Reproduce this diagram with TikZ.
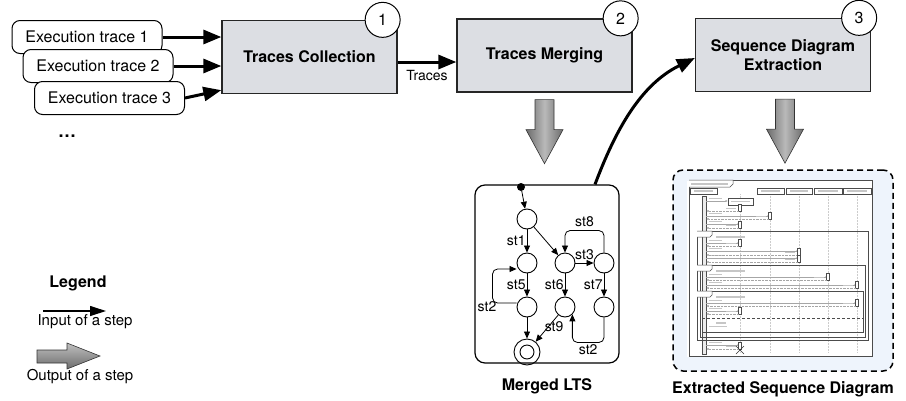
\documentclass[tikz,border=0pt]{standalone}
\usepackage{fontspec}
\setmainfont{TeX Gyre Heros}
\usetikzlibrary{arrows.meta,positioning}

\definecolor{boxgray}{HTML}{DCDEE3}
\definecolor{sdblue}{HTML}{EEF4FC}

\begin{document}
\begin{tikzpicture}[x=1pt,y=-1pt,font=\fontsize{16}{19}\selectfont,
			stepbox/.style={draw=black!85,line width=1.3pt,fill=boxgray,minimum width=175pt,minimum height=73pt,font=\fontsize{16}{19}\selectfont\bfseries,align=center},
			tracebox/.style={draw,line width=1pt,rounded corners=8pt,fill=white,minimum width=150pt,minimum height=33pt},
			num/.style={circle,draw,line width=1pt,fill=white,minimum size=35pt,inner sep=0pt},
			inarrow/.style={line width=3pt,-{Triangle[length=18pt,width=14pt]}},
			fatdown/.style={draw=black!80,line width=0.6pt,left color=gray!85!black,right color=gray!85!black,middle color=gray!55},
			fatright/.style={draw=black!80,line width=0.6pt,top color=gray!50,bottom color=gray!85!black},
			state/.style={circle,draw,line width=0.9pt,minimum size=20pt,inner sep=0pt},
			tr/.style={line width=0.8pt,-{Triangle[length=7pt,width=6pt]}},
			lbl/.style={font=\fontsize{14}{16}\selectfont,inner sep=1pt},
			title/.style={font=\fontsize{16}{19}\selectfont\bfseries},
			msg/.style={line width=0.4pt,gray!70,-{Latex[length=2.5pt,width=2pt]}},
			ret/.style={line width=0.4pt,gray!70,densely dotted,-{Latex[length=2.5pt,width=2pt]}},
			frm/.style={draw=gray!60!black,line width=0.5pt},
			bar/.style={fill=gray!45}]
	\useasboundingbox (0,0) rectangle (906,400);

	% input traces
	\node [tracebox] (t1) at (87,37) {Execution trace 1};
	\node [tracebox] (t2) at (98,66) {Execution trace 2};
	\node [tracebox] (t3) at (109.5,98) {Execution trace 3};
	\node [font=\fontsize{18}{20}\selectfont\bfseries] (dots) at (67,136) {\dots};

	% the three steps
	\node [stepbox] (tc) at (309.5,57) {Traces Collection};
	\node [stepbox] (tm) at (544.5,55.5) {Traces Merging};
	\node [stepbox] (se) at (783,55) {Sequence Diagram\\Extraction};
	\node [num] (n1) at ([xshift=-15pt]tc.north east) {1};
	\node [num] (n2) at ([xshift=-12pt]tm.north east) {2};
	\node [num] (n3) at ([xshift=-12pt]se.north east) {3};

	\draw [inarrow] (t1.east) -- (t1.east -| tc.west);
	\draw [inarrow] (t2.east) -- (t2.east -| tc.west);
	\draw [inarrow] (t3.east) -- ([yshift=4pt]tc.south west);
	\draw [inarrow] ([yshift=-5pt]tc.east) -- ([yshift=-5pt]tc.east -| tm.west)
		node [midway,below=3pt,font=\fontsize{14}{16}\selectfont] {Traces};

	% outputs
	\shade [fatdown] (tm.south) ++(-9.5,7) -- ++(19,0) -- ++(0,30) -- ++(9,0)
		-- ++(-18.5,34) -- ++(-18.5,-34) -- ++(9,0) -- cycle;
	\shade [fatdown] ([xshift=2pt]se.south) ++(-9.5,7) -- ++(19,0) -- ++(0,30) -- ++(9,0)
		-- ++(-18.5,34) -- ++(-18.5,-34) -- ++(9,0) -- cycle;

	% merged LTS
	\node [draw,line width=1.2pt,rounded corners=10pt,minimum width=144pt,minimum height=178pt] (lts) at (547,274) {};
	\node [title,below=12pt of lts] (ltsname) {Merged LTS};
	\node [circle,fill,inner sep=0pt,minimum size=8pt] (init) at (521,187) {};
	\node [state] (s0) at (527,219) {};
	\node [state] (s1) at (527,263) {};
	\node [state] (s2) at (527,307) {};
	\node [state] (s3) at (565,263) {};
	\node [state] (s4) at (604,263) {};
	\node [state] (s5) at (565,307) {};
	\node [state] (s6) at (604,307) {};
	\node [state,minimum size=26pt] (fin) at (527,352) {};
	\node [state,minimum size=14pt] (fin2) at (fin) {};

	\draw [tr] (init) -- (s0);
	\draw [tr] (s0) -- node [lbl,left] {st1} (s1);
	\draw [tr] (s0) -- (s3);
	\draw [tr] (s1) -- node [lbl,left] {st5} (s2);
	\draw [tr] (s2) -- (fin);
	\draw [tr] (s3) -- node [lbl,above=2pt] {st3} (s4);
	\draw [tr] (s3) -- node [lbl,left] {st6} (s5);
	\draw [tr] (s4) -- node [lbl,left] {st7} (s6);
	\draw [tr] (s5) -- node [lbl,pos=.45,xshift=6pt] {st9} (fin);
	\draw [tr,rounded corners=5pt] ([yshift=4pt]s2.west) -- ++(-24,0) |- ([yshift=-6pt]s1.west);
	\node [lbl] (st2a) at (487,307) {st2};
	\draw [tr,rounded corners=5pt] (s4.north) -- ++(0,-22) -| node [lbl,pos=.25,above=2pt] {st8} (s3.north);
	\draw [tr,rounded corners=5pt] (s6.south) -- ++(0,25) -| node [lbl,pos=.25,below=1pt] {st2} (s5.south east);

	\draw [inarrow] ([xshift=48pt]lts.north) .. controls +(20,-53) and +(-55,27) .. ([yshift=-3pt]se.west);

	% extracted sequence diagram
	\node [draw,line width=1.5pt,dash pattern=on 6pt off 4pt,rounded corners=10pt,fill=sdblue,minimum width=220pt,minimum height=201pt] (sd) at (783,270.5) {};
	\node [title,below=6pt of sd] (sdname) {Extracted Sequence Diagram};
	\node [fill=white,inner sep=0pt,minimum width=186pt,minimum height=176pt] (shot) at (780,269) {};
	\draw [frm] (689,180) rectangle (872,356);
	\draw [frm,fill=white] (689,180) -- (733,180) -- (733,184) -- (730,187) -- (689,187);
	\fill [bar] (691,182.5) rectangle (728,184.5);
	\foreach \x in {740,770,799,828,857}
		\draw [gray!40,densely dotted,line width=0.5pt] (\x,194) -- (\x,352);
	\foreach \a/\b in {690/717,757/784,786/812,814/842,843/871}{
		\draw [frm,fill=white] (\a,188) rectangle (\b,194);
		\fill [bar] (\a+4,190.3) rectangle (\b-4,191.7);
	}
	\draw [frm,fill=gray!15] (702,196) rectangle (706,354);
	\draw [frm,fill=white] (728,198) rectangle (753,205);
	\fill [bar] (731,201) rectangle (750,202.3);
	% frames
	\draw [frm] (697,231) rectangle (868,340);
	\draw [frm] (700,265) rectangle (865,337);
	\draw [frm] (702,291) rectangle (863,332);
	\draw [frm,densely dashed] (702,318) -- (863,318);
	\foreach \y in {231,265,291}{
		\draw [frm,fill=white] (697,\y) -- (712,\y) -- (712,\y+4) -- (710,\y+6) -- (697,\y+6);
		\fill [bar] (716,\y+5) rectangle (745,\y+6.5);
	}
	\fill [bar] (716,322) rectangle (726,323.5);
	\fill [bar] (709,326) rectangle (727,327.3);
	% messages
	\foreach \y/\x in {201/728,216/770,224/740,243/740,251/799,258/799,277/828,285/857,303/857,311/740,345/740}{
		\draw [msg] (706,\y) -- (\x,\y);
		\fill [bar] (709,\y-3.2) rectangle (722,\y-1.8);
	}
	\foreach \y/\x in {211/740,219/770,228/740,246/740,255/799,262/799,280/828,288/857,306/857,314/740,349/740}{
		\draw [frm,fill=white] (\x-1.5,\y-7) rectangle (\x+1.5,\y);
		\draw [ret] (\x-1.5,\y) -- (706,\y);
		\fill [bar] (\x-14,\y-3.2) rectangle (\x-4,\y-1.8);
	}
	\draw [gray!40!black,line width=0.6pt] (736,346) -- (744,354) (736,354) -- (744,346);

	% legend
	\node [title] (leg) at (78,283) {Legend};
	\coordinate (ia) at (43,311);
	\coordinate (ib) at (106,311);
	\draw [line width=1.2pt,-{Triangle[length=16pt,width=10pt]}] (ia) -- (ib);
	\node [font=\fontsize{15}{18}\selectfont] (inlbl) at (85,322) {Input of a step};
	\shade [fatright] (37,350) -- (67,350) -- (67,343) -- (100,356) -- (67,369) -- (67,363) -- (37,363) -- cycle;
	\node [font=\fontsize{15}{18}\selectfont] (outlbl) at (80,377) {Output of a step};
\end{tikzpicture}
\end{document}
